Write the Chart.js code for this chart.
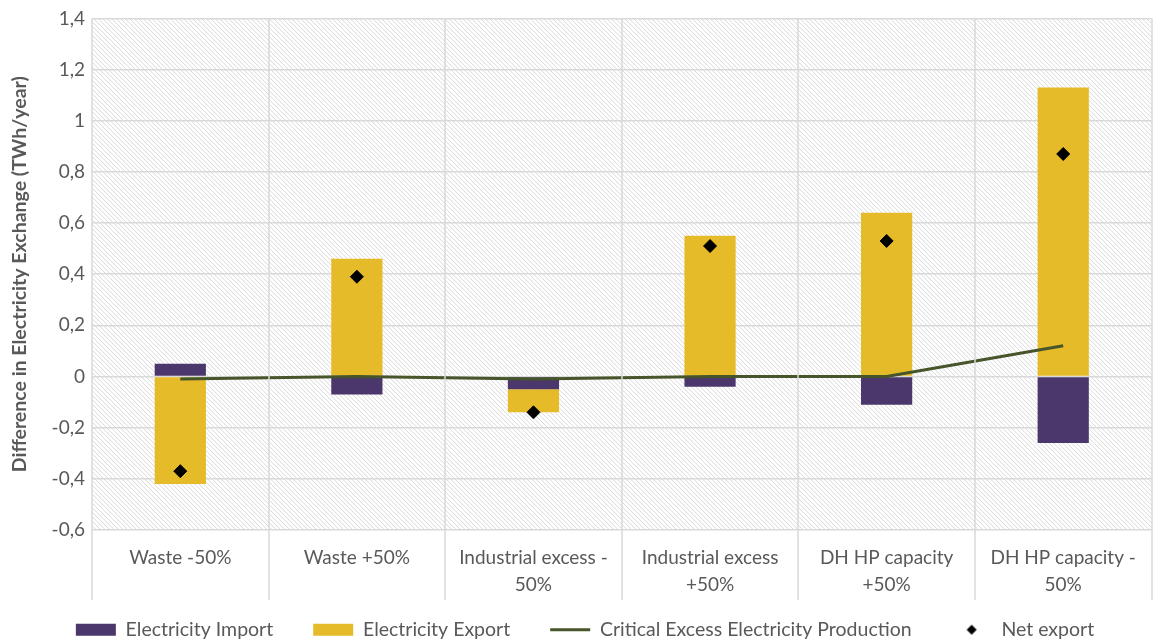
<!DOCTYPE html>
<html lang="en">
<head>
    <meta charset="UTF-8">
    <title>Electricity Exchange</title>
    <script src="https://cdn.jsdelivr.net/npm/chart.js"></script>
    <style>
        body {
            margin: 0;
            background: #fff;
        }
        .chart-wrapper {
            position: relative;
            width: 1159px;
            height: 644px;
        }
    </style>
</head>
<body>
    <div class="chart-wrapper">
        <canvas id="exchangeChart" width="1159" height="644"></canvas>
    </div>

    <script>
        const categories = [
            ['Waste -50%'],
            ['Waste +50%'],
            ['Industrial excess -', '50%'],
            ['Industrial excess', '+50%'],
            ['DH HP capacity', '+50%'],
            ['DH HP capacity -', '50%']
        ];
        const electricityImport = [0.05, -0.07, -0.05, -0.04, -0.11, -0.26];
        const electricityExport = [-0.42, 0.46, -0.09, 0.55, 0.64, 1.13];
        const criticalExcess = [-0.01, 0, -0.01, 0, 0, 0.12];
        const netExport = [-0.37, 0.39, -0.14, 0.51, 0.53, 0.87];

        const textColor = '#595959';
        const gridColor = '#d9d9d9';
        const fontFamily = 'Lato, "Open Sans", sans-serif';

        // small diamond used for the legend entry of the net export points
        const diamond = document.createElement('canvas');
        diamond.width = 12;
        diamond.height = 12;
        const dctx = diamond.getContext('2d');
        dctx.fillStyle = '#000';
        dctx.beginPath();
        dctx.moveTo(6, 1);
        dctx.lineTo(11, 6);
        dctx.lineTo(6, 11);
        dctx.lineTo(1, 6);
        dctx.closePath();
        dctx.fill();

        // hatched background of the plot area
        const hatchPlugin = {
            id: 'hatch',
            beforeDraw(chart) {
                const { ctx, chartArea: a } = chart;
                ctx.save();
                ctx.beginPath();
                ctx.rect(a.left, a.top, a.right - a.left, a.bottom - a.top);
                ctx.clip();
                ctx.fillStyle = '#fff';
                ctx.fillRect(a.left, a.top, a.right - a.left, a.bottom - a.top);
                ctx.strokeStyle = '#dadada';
                ctx.lineWidth = 1;
                const h = a.bottom - a.top;
                for (let k = -h; k < a.right - a.left; k += 4.5) {
                    ctx.beginPath();
                    ctx.moveTo(a.left + k, a.top);
                    ctx.lineTo(a.left + k + h, a.bottom);
                    ctx.stroke();
                }
                ctx.restore();
            }
        };

        // category separators run down through the label area
        const separatorPlugin = {
            id: 'separators',
            afterDraw(chart) {
                const { ctx, chartArea: a } = chart;
                const step = (a.right - a.left) / categories.length;
                ctx.save();
                ctx.strokeStyle = gridColor;
                ctx.lineWidth = 1.5;
                for (let i = 0; i <= categories.length; i++) {
                    const px = Math.round(a.left + i * step);
                    ctx.beginPath();
                    ctx.moveTo(px, a.top);
                    ctx.lineTo(px, a.bottom + 70);
                    ctx.stroke();
                }
                ctx.restore();
            }
        };

        // wide gaps between legend items, but the legend sits close to the axis labels
        const legendFit = {
            id: 'legendFit',
            beforeInit(chart) {
                const fit = chart.legend.fit;
                chart.legend.fit = function () {
                    fit.bind(chart.legend)();
                    this.height = 46;
                };
            },
            afterLayout(chart) {
                chart.legend.top = 580;
                chart.legend.bottom = 644;
                chart.legend.left += 6;
                chart.legend.right += 6;
            }
        };

        new Chart(document.getElementById('exchangeChart'), {
            type: 'bar',
            data: {
                labels: categories,
                datasets: [
                    {
                        label: 'Electricity Import',
                        data: electricityImport,
                        backgroundColor: '#4b376b',
                        stack: 'bars',
                        order: 2,
                        barPercentage: 0.29,
                        categoryPercentage: 1
                    },
                    {
                        label: 'Electricity Export',
                        data: electricityExport,
                        backgroundColor: '#e6bb29',
                        stack: 'bars',
                        order: 3,
                        barPercentage: 0.29,
                        categoryPercentage: 1
                    },
                    {
                        type: 'line',
                        label: 'Critical Excess Electricity Production',
                        data: criticalExcess,
                        borderColor: '#46552a',
                        backgroundColor: '#46552a',
                        borderWidth: 3,
                        pointRadius: 0,
                        pointStyle: 'line',
                        stack: 'crit',
                        order: 1
                    },
                    {
                        type: 'line',
                        label: 'Net export',
                        data: netExport,
                        showLine: false,
                        pointStyle: 'rectRot',
                        pointRadius: 6.5,
                        backgroundColor: '#000',
                        borderColor: '#000',
                        stack: 'net',
                        order: 0
                    }
                ]
            },
            options: {
                responsive: false,
                animation: false,
                layout: {
                    padding: { top: 10, right: 1, left: 0, bottom: 0 }
                },
                plugins: {
                    tooltip: { enabled: false },
                    legend: {
                        position: 'bottom',
                        labels: {
                            color: textColor,
                            font: { family: fontFamily, size: 19.5 },
                            usePointStyle: true,
                            pointStyleWidth: 40,
                            boxHeight: 12,
                            padding: 40,
                            sort: (a, b) => a.datasetIndex - b.datasetIndex,
                            generateLabels(chart) {
                                const items = Chart.defaults.plugins.legend.labels.generateLabels(chart);
                                items.forEach(item => {
                                    if (item.datasetIndex < 2) {
                                        item.pointStyle = 'rect';
                                        item.lineWidth = 0;
                                        item.strokeStyle = item.fillStyle;
                                    } else if (item.datasetIndex === 2) {
                                        item.pointStyle = 'line';
                                        item.lineWidth = 3;
                                    } else {
                                        item.pointStyle = diamond;
                                    }
                                });
                                return items;
                            }
                        }
                    }
                },
                scales: {
                    x: {
                        stacked: true,
                        grid: { display: false, drawTicks: false },
                        border: { display: false },
                        afterFit(scale) {
                            scale.height = 68;
                        },
                        ticks: {
                            color: textColor,
                            font: { family: fontFamily, size: 19, lineHeight: 1.4 },
                            padding: 15,
                            maxRotation: 0,
                            autoSkip: false
                        }
                    },
                    y: {
                        stacked: true,
                        min: -0.6,
                        max: 1.4,
                        border: { display: false },
                        afterFit(scale) {
                            scale.width = 92;
                        },
                        grid: {
                            color: gridColor,
                            lineWidth: 1.5,
                            drawTicks: false
                        },
                        ticks: {
                            stepSize: 0.2,
                            color: textColor,
                            padding: 7,
                            font: { family: fontFamily, size: 19 },
                            callback: v => String(Number(v.toFixed(1))).replace('.', ',')
                        },
                        title: {
                            display: true,
                            text: 'Difference in Electricity Exchange (TWh/year)',
                            color: textColor,
                            font: { family: fontFamily, size: 19.5, weight: 'bold' },
                            padding: { top: 8, bottom: 4 }
                        }
                    }
                }
            },
            plugins: [hatchPlugin, separatorPlugin, legendFit]
        });
    </script>
</body>
</html>
